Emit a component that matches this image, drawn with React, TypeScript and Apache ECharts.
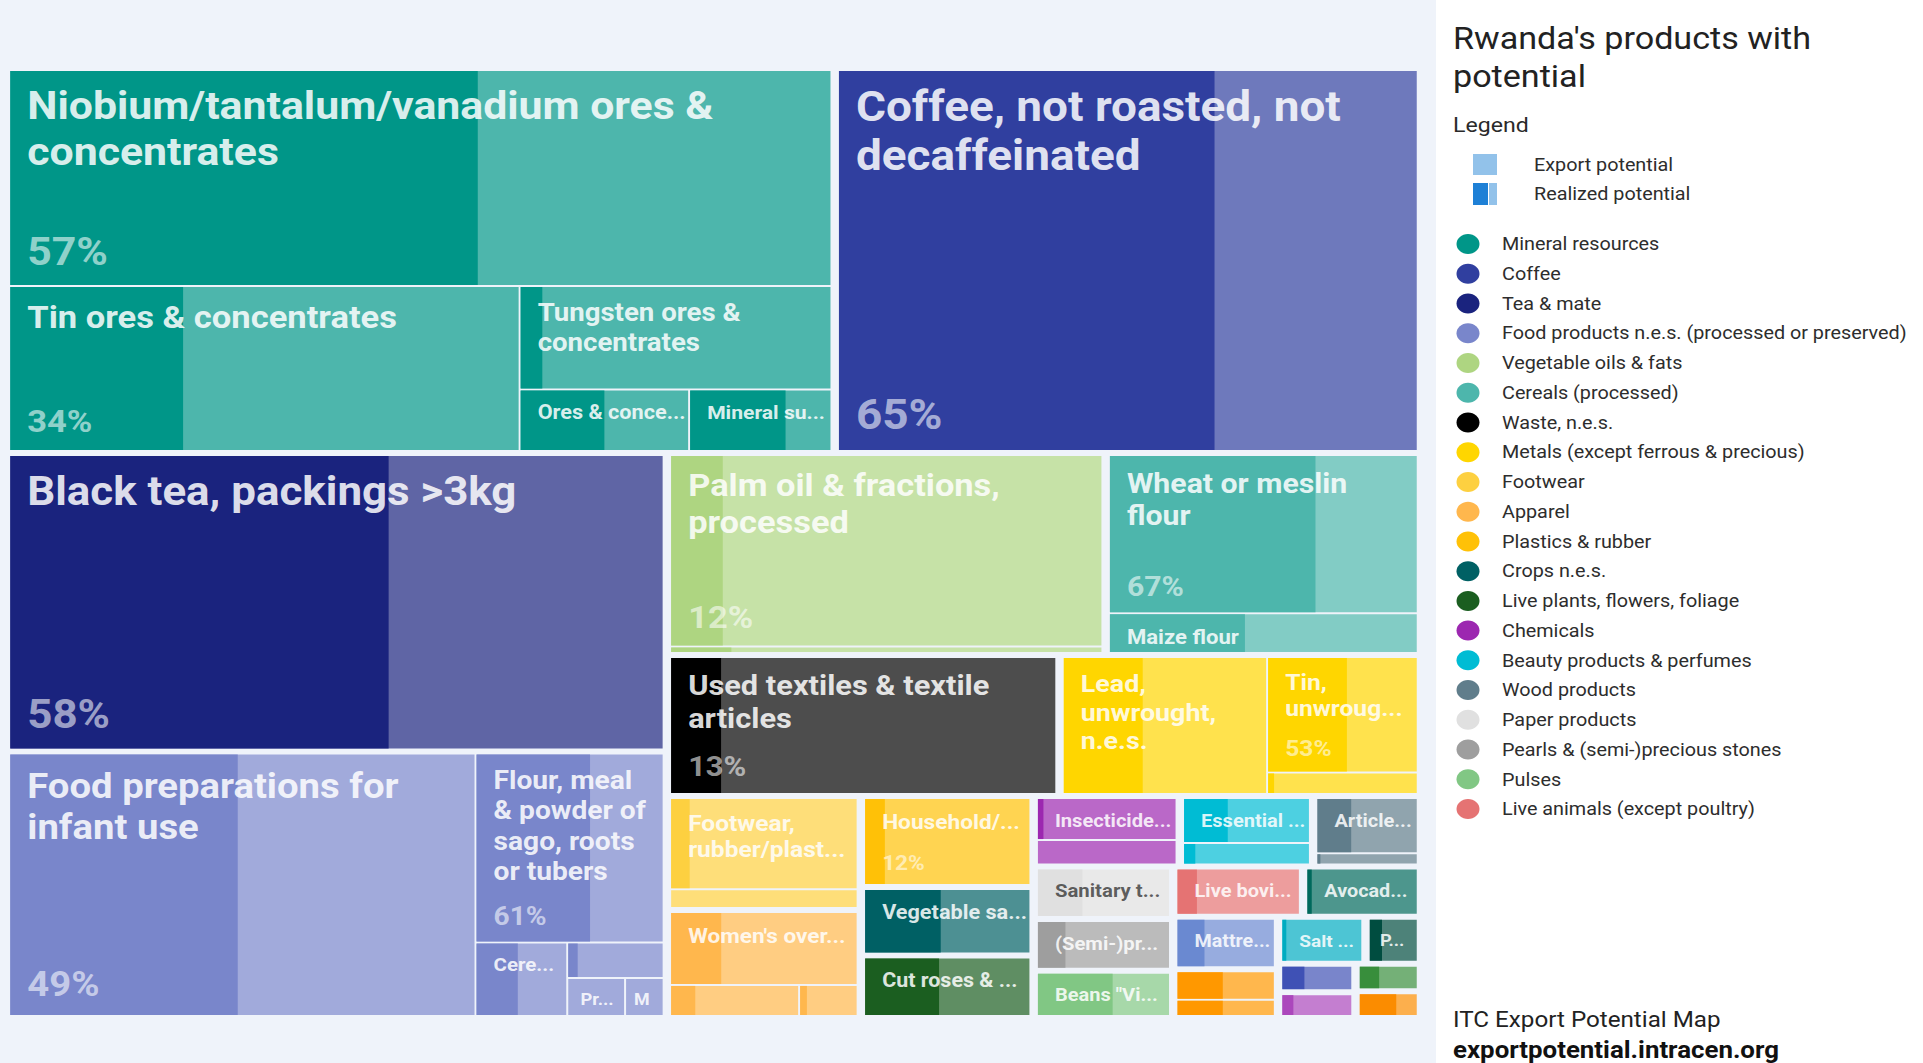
import React, { useEffect, useRef } from 'react';
import * as echarts from 'echarts';

// ---------------- data ----------------
const titleLines = ["Rwanda's products with", 'potential'];
const legendHeading = 'Legend';
const potentialKeys = ['Export potential', 'Realized potential'];
const sourceLines = ['ITC Export Potential Map', 'exportpotential.intracen.org'];

const categories = [
  'Mineral resources',
  'Coffee',
  'Tea & mate',
  'Food products n.e.s. (processed or preserved)',
  'Vegetable oils & fats',
  'Cereals (processed)',
  'Waste, n.e.s.',
  'Metals (except ferrous & precious)',
  'Footwear',
  'Apparel',
  'Plastics & rubber',
  'Crops n.e.s.',
  'Live plants, flowers, foliage',
  'Chemicals',
  'Beauty products & perfumes',
  'Wood products',
  'Paper products',
  'Pearls & (semi-)precious stones',
  'Pulses',
  'Live animals (except poultry)',
  'Fruits',
  'Furniture',
  'Textiles',
  'Salt & minerals',
  'Spices',
  'Cocoa products',
  'Pharmaceuticals',
  'Vegetables',
  'Roots & tubers',
];
const legendCategoryCount = 20;

const products = [
  'Niobium/tantalum/vanadium ores & concentrates',
  'Tin ores & concentrates',
  'Tungsten ores & concentrates',
  'Ores & concentrates of precious metals',
  'Mineral substances n.e.s.',
  'Coffee, not roasted, not decaffeinated',
  'Black tea, packings >3kg',
  'Food preparations for infant use',
  'Flour, meal & powder of sago, roots or tubers',
  'Cereal flours n.e.s.',
  'Pasta, uncooked, not stuffed',
  'Prepared foods from swelled cereals',
  'Malt extract',
  'Palm oil & fractions, processed',
  'Soya-bean oil & fractions, refined',
  'Wheat or meslin flour',
  'Maize flour',
  'Used textiles & textile articles',
  'Lead, unwrought, n.e.s.',
  'Tin, unwrought, not alloyed',
  'Tin bars, rods, profiles & wire',
  'Footwear, rubber/plastic uppers, n.e.s.',
  'Footwear, textile uppers, n.e.s.',
  "Women's overcoats, capes & cloaks",
  "Men's trousers & shorts, cotton",
  'T-shirts & singlets, knitted',
  'Household/toilet articles, of plastics',
  'Vegetable saps & extracts n.e.s.',
  'Cut roses & buds, fresh',
  'Insecticides, packaged for retail sale',
  'Fungicides, packaged for retail sale',
  'Essential oils n.e.s.',
  'Perfumes & toilet waters',
  'Articles of wood n.e.s.',
  "Builders' joinery of wood",
  'Sanitary towels, tampons & napkins',
  '(Semi-)precious stones, worked',
  'Beans "Vigna mungo", dried',
  'Live bovine animals',
  'Avocados, fresh or dried',
  'Mattress supports',
  'Cotton yarn, single, uncombed',
  'Woven cotton fabrics',
  'Salt & pure sodium chloride',
  'Pepper, dried or crushed',
  'Chocolate & cocoa preparations',
  'Medicaments, packaged',
  'Vegetables, fresh n.e.s.',
  'Sweet potatoes, fresh or dried',
];
const productCategory = [
  0, 0, 0, 0, 0, 1, 2, 3, 3, 3, 3, 3, 3, 4, 4, 5, 5, 6, 7, 7, 7, 8, 8, 9, 9, 9, 10, 11, 12, 13, 13, 14, 14, 15, 15,
  16, 17, 18, 19, 20, 21, 22, 22, 23, 24, 25, 26, 27, 28,
];
// export potential, US$ million
const exportPotential = [
  180.7, 85.6, 32.8, 10.6, 8.9, 225.4, 197.0, 125.3, 36.4, 6.9, 3.5, 2.25, 1.5, 85.6, 2.9, 50.8, 12.8, 55.3, 29.3,
  18.2, 3.4, 18.3, 3.8, 14.65, 4.3, 1.95, 15.7, 11.8, 10.8, 6.5, 3.8, 6.35, 3.05, 6.3, 1.3, 7.3, 7.2, 6.6, 6.5, 5.9,
  5.5, 3.25, 1.85, 4.1, 2.6, 2.2, 2.0, 1.8, 1.75,
];
// realized share of the potential, %
const realizedShare = [
  57, 34, 7, 50, 68, 65, 58, 49, 61, 46, 10, 0, 0, 12, 14, 67, 44, 13, 39, 53, 4, 10, 0, 27, 19, 12, 12, 46, 45, 4, 0,
  35, 9, 34, 3, 34, 21, 57, 16, 4, 28, 47, 47, 5, 26, 32, 16, 34, 64,
];

// ---------------- styles ----------------
const categoryColors = [
  '#009688', '#303f9f', '#1a237e', '#7986cb', '#aed581', '#4db6ac', '#000000', '#ffd600', '#fdd040', '#ffb74d',
  '#ffc107', '#006064', '#1b5e20', '#9c27b0', '#00bcd4', '#607d8b', '#e0e0e0', '#9e9e9e', '#81c784', '#e57373',
  '#00695c', '#6a89d1', '#ff9800', '#00acc1', '#004d40', '#3f51b5', '#ab47bc', '#388e3c', '#fb8c00',
];
const darkLabelCategories = ['Paper products'];

const CHART_W = 1923;
const CHART_H = 1063;
const PLOT = { left: 6, top: 68, width: 1415, height: 950 };
const STRETCH = 2.33;
const LAYOUT_W = PLOT.width / STRETCH;
const LAYOUT_H = PLOT.height;
const GROUP_PAD_X = 3.25 / STRETCH;
const GROUP_PAD_Y = 2;
const FONT = 'Roboto, "Noto Sans", sans-serif';
const TEXT_SX = 1.1; // glyphs are drawn a little wide, as in the original

function tint(hex: string, a = 0.7): string {
  const n = parseInt(hex.slice(1), 16);
  const r = (n >> 16) & 255;
  const g = (n >> 8) & 255;
  const b = n & 255;
  const f = (c: number) => Math.round(255 - (255 - c) * a);
  return `rgb(${f(r)},${f(g)},${f(b)})`;
}

type Rect = { x: number; y: number; w: number; h: number };

// squarified treemap layout (Bruls et al.), same rule as ECharts' treemap
function squarify(values: number[], rect: Rect): Rect[] {
  const out: Rect[] = new Array(values.length);
  const total = values.reduce((s, v) => s + v, 0);
  let { x, y, w, h } = rect;
  const scale = (w * h) / total;
  const areas = values.map((v) => v * scale);
  const worst = (sum: number, mx: number, mn: number, side: number) => {
    const t = sum / side;
    return Math.max((t * t) / mn, mx / (t * t));
  };
  let i = 0;
  const n = values.length;
  while (i < n) {
    const side = Math.min(w, h);
    let sum = areas[i];
    let mx = areas[i];
    let mn = areas[i];
    let best = worst(sum, mx, mn, side);
    let j = i + 1;
    while (j < n) {
      const a = areas[j];
      const s2 = sum + a;
      const mx2 = Math.max(mx, a);
      const mn2 = Math.min(mn, a);
      const sc = worst(s2, mx2, mn2, side);
      if (sc <= best) {
        sum = s2;
        mx = mx2;
        mn = mn2;
        best = sc;
        j++;
      } else break;
    }
    const t = sum / side;
    if (w <= h) {
      let cx = x;
      for (let m = i; m < j; m++) {
        const len = areas[m] / t;
        out[m] = { x: cx, y, w: len, h: t };
        cx += len;
      }
      y += t;
      h -= t;
    } else {
      let cy = y;
      for (let m = i; m < j; m++) {
        const len = areas[m] / t;
        out[m] = { x, y: cy, w: t, h: len };
        cy += len;
      }
      x += t;
      w -= t;
    }
    i = j;
  }
  return out;
}

function buildCells(): number[][] {
  const catTotals = categories.map((_, c) =>
    exportPotential.reduce((s, v, p) => (productCategory[p] === c ? s + v : s), 0)
  );
  const order = categories
    .map((_, c) => c)
    .filter((c) => catTotals[c] > 0)
    .sort((a, b) => catTotals[b] - catTotals[a] || a - b);
  const catRects = squarify(
    order.map((c) => catTotals[c]),
    { x: 0, y: 0, w: LAYOUT_W, h: LAYOUT_H }
  );
  const cells: number[][] = [];
  order.forEach((c, k) => {
    const r = catRects[k];
    const inner = { x: r.x + GROUP_PAD_X, y: r.y + GROUP_PAD_Y, w: r.w - 2 * GROUP_PAD_X, h: r.h - 2 * GROUP_PAD_Y };
    const members = products
      .map((_, p) => p)
      .filter((p) => productCategory[p] === c)
      .sort((a, b) => exportPotential[b] - exportPotential[a] || a - b);
    const rects = squarify(
      members.map((p) => exportPotential[p]),
      inner
    );
    members.forEach((p, m) => {
      const q = rects[m];
      cells.push([q.x, q.y, q.x + q.w, q.y + q.h, p]);
    });
  });
  return cells;
}

let measureCtx: CanvasRenderingContext2D | null = null;
function textWidth(s: string, font: string): number {
  if (!measureCtx) measureCtx = document.createElement('canvas').getContext('2d');
  if (!measureCtx) return s.length * 10 * TEXT_SX;
  measureCtx.font = font;
  return measureCtx.measureText(s).width * TEXT_SX;
}

function fitChars(s: string, maxW: number, font: string): string {
  if (textWidth(s, font) <= maxW) return s;
  for (let n = s.length - 1; n >= 1; n--) {
    const cand = s.slice(0, n) + '...';
    if (textWidth(cand, font) <= maxW) return cand;
  }
  return textWidth(s[0], font) <= maxW ? s[0] : '';
}

function wrapLabel(name: string, maxW: number, maxLines: number, font: string): string[] {
  const words = name.split(' ');
  const lines: string[] = [];
  let i = 0;
  while (i < words.length) {
    if (lines.length === maxLines - 1) {
      lines.push(fitChars(words.slice(i).join(' '), maxW, font));
      break;
    }
    let line = words[i];
    if (textWidth(line, font) > maxW) {
      lines.push(fitChars(words.slice(i).join(' '), maxW, font));
      break;
    }
    i++;
    while (i < words.length && textWidth(line + ' ' + words[i], font) <= maxW) {
      line += ' ' + words[i];
      i++;
    }
    lines.push(line);
  }
  return lines.filter((l) => l.length > 0);
}

function wideText(text: string, x: number, y: number, font: string, fill: string): any {
  return {
    type: 'text',
    silent: true,
    x,
    y,
    scaleX: TEXT_SX,
    style: { text, x: 0, y: 0, font, fill, textAlign: 'left', textVerticalAlign: 'middle' },
  };
}

function renderCell(_params: any, api: any) {
  const p = api.value(4) as number;
  const a = api.coord([api.value(0), api.value(1)]);
  const b = api.coord([api.value(2), api.value(3)]);
  const x = a[0] + 1;
  const y = a[1] + 1;
  const w = b[0] - a[0] - 2;
  const h = b[1] - a[1] - 2;
  const c = productCategory[p];
  const base = categoryColors[c];
  const children: any[] = [
    { type: 'rect', shape: { x, y, width: w, height: h }, style: { fill: tint(base) } },
    {
      type: 'rect',
      shape: { x, y, width: (w * realizedShare[p]) / 100, height: h },
      style: { fill: base },
    },
  ];
  if (h >= 34 && w >= 30) {
    const dark = darkLabelCategories.indexOf(categories[c]) >= 0;
    const s = Math.sqrt(w * h);
    const fs0 = Math.min(44, 15 + 0.057 * s);
    const fs = s < 122 ? fs0 * 0.95 : fs0;
    const font = `bold ${fs.toFixed(1)}px ${FONT}`;
    const lh = fs * 1.18;
    const padL = Math.min(17, w * 0.22);
    const maxW = w - padL - (w > 180 ? 6 : 2);
    const maxLines = Math.max(1, Math.floor((h - 35) / lh));
    const lines = wrapLabel(products[p], maxW, maxLines, font);
    const firstMid = y + 10 + 0.625 * fs;
    const nameFill = dark ? 'rgba(0,0,0,0.62)' : 'rgba(255,255,255,0.86)';
    lines.forEach((ln, i) => {
      children.push(wideText(ln, x + padL, firstMid + i * lh, font, nameFill));
    });
    const lastBottom = firstMid + (lines.length - 1) * lh + 0.4 * fs;
    const pctBase = y + h - (8 + 0.3 * fs);
    const pctTop = pctBase - 0.71 * fs;
    if (pctTop - lastBottom >= 17) {
      children.push(
        wideText(
          `${realizedShare[p]}%`,
          x + padL,
          pctBase - 0.355 * fs,
          font,
          dark ? 'rgba(0,0,0,0.45)' : 'rgba(255,255,255,0.58)'
        )
      );
    }
  }
  return { type: 'group', children };
}

function buildLegend(): any[] {
  const els: any[] = [];
  els.push({
    type: 'rect',
    z: -10,
    silent: true,
    shape: { x: 1436, y: 0, width: CHART_W - 1436, height: CHART_H },
    style: { fill: '#ffffff' },
  });
  titleLines.forEach((t, i) => {
    els.push(wideText(t, 1453, 38.5 + i * 38, `31px ${FONT}`, '#222222'));
  });
  els.push(wideText(legendHeading, 1453, 124.5, `21px ${FONT}`, '#2a2a2a'));
  els.push({ type: 'rect', shape: { x: 1473, y: 154, width: 24, height: 21 }, style: { fill: '#92c2ea' } });
  els.push({ type: 'rect', shape: { x: 1473, y: 183, width: 15, height: 22 }, style: { fill: '#1e80d6' } });
  els.push({ type: 'rect', shape: { x: 1489, y: 183, width: 8, height: 22 }, style: { fill: '#92c2ea' } });
  potentialKeys.forEach((t, i) => {
    els.push(wideText(t, 1534, 164.5 + i * 29.5, `18px ${FONT}`, '#2d2d2d'));
  });
  categories.slice(0, legendCategoryCount).forEach((name, i) => {
    const cy = 244 + i * 29.74;
    els.push({ type: 'ellipse', shape: { cx: 1468, cy, rx: 11.5, ry: 10 }, style: { fill: categoryColors[i] } });
    els.push(wideText(name, 1502, cy, `18px ${FONT}`, '#2d2d2d'));
  });
  els.push(wideText(sourceLines[0], 1453, 1020, `22px ${FONT}`, '#222222'));
  els.push(wideText(sourceLines[1], 1453, 1050, `bold 23.5px ${FONT}`, '#111111'));
  return els;
}

export default function App() {
  const ref = useRef<HTMLDivElement>(null);
  useEffect(() => {
    if (!ref.current) return;
    const chart = echarts.init(ref.current, undefined, { renderer: 'svg', width: CHART_W, height: CHART_H });
    chart.setOption({
      animation: false,
      backgroundColor: '#eff3fa',
      grid: { left: PLOT.left, top: PLOT.top, width: PLOT.width, height: PLOT.height },
      xAxis: { type: 'value', min: 0, max: LAYOUT_W, show: false },
      yAxis: { type: 'value', min: 0, max: LAYOUT_H, inverse: true, show: false },
      graphic: buildLegend(),
      series: [
        {
          type: 'custom',
          renderItem: renderCell,
          data: buildCells(),
          encode: { x: [0, 2], y: [1, 3] },
          silent: true,
        },
      ],
    });
    return () => chart.dispose();
  }, []);
  return <div ref={ref} style={{ position: 'fixed', left: 0, top: 0, width: CHART_W, height: CHART_H }} />;
}
